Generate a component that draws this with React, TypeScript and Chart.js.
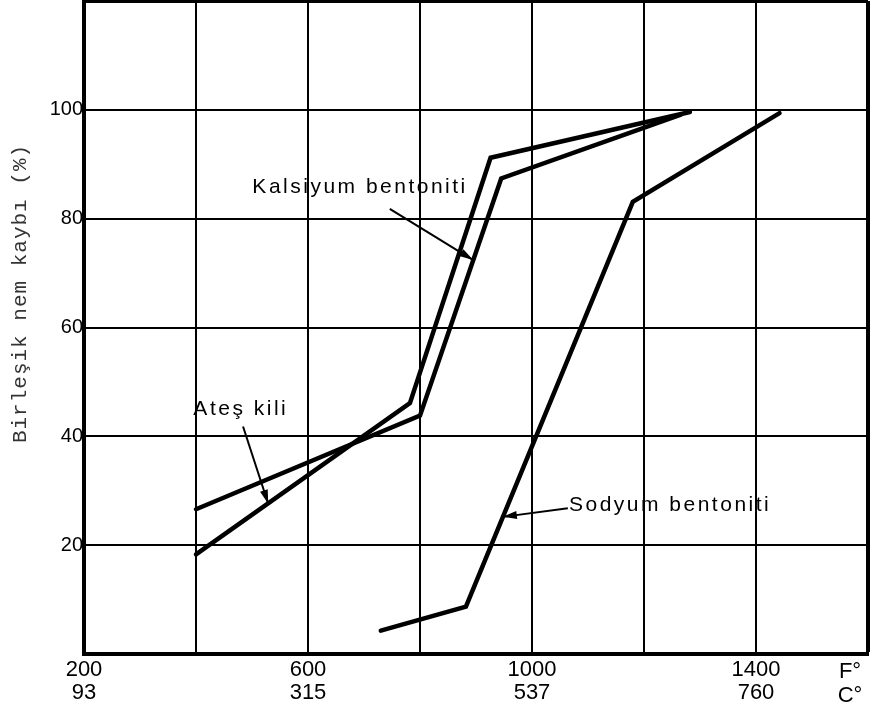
import { useEffect, useRef } from "react";
import { Chart, registerables, Plugin } from "chart.js";

Chart.register(...registerables);

// values
const atesKiliF = [400, 782, 926, 1282];
const atesKiliNem = [18.3, 46.1, 91.2, 99.6];
const kalsiyumF = [400, 800, 945, 1266];
const kalsiyumNem = [26.6, 43.8, 87.4, 99.1];
const sodyumF = [730, 882, 1180, 1442];
const sodyumNem = [4.3, 8.7, 83.1, 99.4];

const fahrenheitTicks = [200, 600, 1000, 1400];
const celsiusTicks = [93, 315, 537, 760];
const nemTicks = [20, 40, 60, 80, 100];

// hand-lettered labels with their arrows, in data units
const notes = [
  { text: "Ateş kili", f: 480, v: 45, align: "center", fromF: 484, fromV: 41.8, toF: 529, toV: 27.6 },
  { text: "Kalsiyum bentoniti", f: 693, v: 85.8, align: "center", fromF: 746, fromV: 81.8, toF: 895, toV: 72.4 },
  { text: "Sodyum bentoniti", f: 1066, v: 27.4, align: "left", fromF: 1064, fromV: 26.8, toF: 948, toV: 25.2 },
];

const toPoints = (xs: number[], ys: number[]) => xs.map((x, i) => ({ x, y: ys[i] }));

const notesPlugin: Plugin<"line"> = {
  id: "notes",
  afterDatasetsDraw(chart) {
    const { ctx } = chart;
    const x = chart.scales.x;
    const y = chart.scales.y;
    ctx.save();
    ctx.fillStyle = "#000";
    ctx.strokeStyle = "#000";
    ctx.font = '21px "Liberation Sans", Arial, sans-serif';
    (ctx as any).letterSpacing = "2.5px";
    ctx.textBaseline = "middle";
    for (const n of notes) {
      ctx.textAlign = n.align as CanvasTextAlign;
      ctx.fillText(n.text, x.getPixelForValue(n.f), y.getPixelForValue(n.v));
      const x0 = x.getPixelForValue(n.fromF);
      const y0 = y.getPixelForValue(n.fromV);
      const x1 = x.getPixelForValue(n.toF);
      const y1 = y.getPixelForValue(n.toV);
      ctx.lineWidth = 2;
      ctx.beginPath();
      ctx.moveTo(x0, y0);
      ctx.lineTo(x1, y1);
      ctx.stroke();
      const a = Math.atan2(y1 - y0, x1 - x0);
      const c = Math.cos(a);
      const s = Math.sin(a);
      ctx.beginPath();
      ctx.moveTo(x1, y1);
      ctx.lineTo(x1 - 14 * c + 4 * s, y1 - 14 * s - 4 * c);
      ctx.lineTo(x1 - 14 * c - 4 * s, y1 - 14 * s + 4 * c);
      ctx.closePath();
      ctx.fill();
    }

    // unit marks at the right end of the x axis
    (ctx as any).letterSpacing = "0px";
    ctx.font = '22px "Liberation Sans", Arial, sans-serif';
    ctx.textAlign = "center";
    ctx.fillText("F°", x.right - 18, x.top + 18);
    ctx.fillText("C°", x.right - 18, x.top + 42);

    // typewritten y-axis title
    ctx.font = '21px "Liberation Mono", "Courier New", monospace';
    (ctx as any).letterSpacing = "1px";
    ctx.fillStyle = "#333";
    ctx.translate(20, (y.top + y.bottom) / 2 - 34);
    ctx.rotate(-Math.PI / 2);
    ctx.fillText("Birleşik nem kaybı (%)", 0, 0);
    ctx.restore();
  },
};

export default function App() {
  const canvasRef = useRef<HTMLCanvasElement>(null);
  const chartRef = useRef<Chart | null>(null);

  useEffect(() => {
    if (!canvasRef.current) return;
    const ctx = canvasRef.current.getContext("2d");
    if (!ctx) return;

    if (chartRef.current) {
      chartRef.current.destroy();
    }

    const lineStyle = {
      borderColor: "#000",
      borderWidth: 4.5,
      pointRadius: 0,
      fill: false,
      tension: 0,
      borderJoinStyle: "miter" as const,
      borderCapStyle: "round" as const,
    };

    chartRef.current = new Chart(ctx, {
      type: "line",
      data: {
        datasets: [
          { label: "Ateş kili", data: toPoints(atesKiliF, atesKiliNem), ...lineStyle },
          { label: "Kalsiyum bentoniti", data: toPoints(kalsiyumF, kalsiyumNem), ...lineStyle },
          { label: "Sodyum bentoniti", data: toPoints(sodyumF, sodyumNem), ...lineStyle },
        ],
      },
      options: {
        responsive: true,
        maintainAspectRatio: false,
        animation: false,
        layout: { padding: { top: 1, right: 11, left: 0, bottom: 0 } },
        plugins: {
          legend: { display: false },
          tooltip: { enabled: false },
        },
        scales: {
          x: {
            type: "linear",
            min: 200,
            max: 1600,
            afterFit: (scale) => {
              scale.height = 66;
            },
            ticks: {
              stepSize: 200,
              autoSkip: false,
              maxRotation: 0,
              padding: 4,
              color: "#000",
              font: { size: 22, family: '"Liberation Sans", Arial, sans-serif', lineHeight: 1.05 },
              callback: (value) => {
                const i = fahrenheitTicks.indexOf(Number(value));
                return i >= 0 ? [String(value), String(celsiusTicks[i])] : "";
              },
            },
            grid: {
              color: "#000",
              lineWidth: (c) => (c.tick && c.tick.value === 1600 ? 4 : 2),
              drawTicks: false,
            },
            border: { display: true, color: "#000", width: 4 },
          },
          y: {
            min: 0,
            max: 120,
            afterFit: (scale) => {
              scale.width = 84;
              // the empty top label should not push the plot down
              scale.paddingTop = 0;
              scale.paddingBottom = 0;
            },
            ticks: {
              stepSize: 20,
              padding: 1,
              color: "#000",
              font: { size: 20, family: '"Liberation Sans", Arial, sans-serif' },
              callback: (value) => (nemTicks.includes(Number(value)) ? String(value) : ""),
            },
            grid: {
              color: "#000",
              lineWidth: (c) => (c.tick && c.tick.value === 120 ? 3 : 2),
              drawTicks: false,
            },
            border: { display: true, color: "#000", width: 4 },
          },
        },
      },
      plugins: [notesPlugin],
    });

    return () => {
      if (chartRef.current) {
        chartRef.current.destroy();
        chartRef.current = null;
      }
    };
  }, []);

  return (
    <div style={{ position: "absolute", left: 0, top: 0, width: 879, height: 720, background: "#fff" }}>
      <canvas ref={canvasRef}></canvas>
    </div>
  );
}
